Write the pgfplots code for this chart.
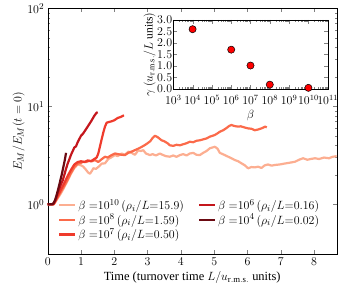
\documentclass[border=0pt]{standalone}
\usepackage{fontspec}
\setmainfont{Liberation Serif}
\usepackage{pgfplots}
\pgfplotsset{compat=1.18}
\definecolor{cA}{HTML}{FCAE91}
\definecolor{cB}{HTML}{FB6A4A}
\definecolor{cC}{HTML}{EF3B2C}
\definecolor{cD}{HTML}{C4161C}
\definecolor{cE}{HTML}{6B0A12}
\begin{document}
\begin{tikzpicture}[font=\fontsize{12.5}{14}\selectfont]
\begin{axis}[name=main, scale only axis, width=289bp, height=246bp,
  xmin=0, xmax=8.68, ymode=log, ymin=0.309, ymax=100,
  xtick={0,1,...,8}, ytick={1,10,100},
  tick align=inside, major tick length=4bp, minor tick length=2bp,
  xlabel={Time (turnover time $L/u_{\mathrm{r.m.s.}}$ units)},
  ylabel={$E_M/E_M(t=0)$},
  xlabel style={yshift=1bp}, ylabel style={yshift=-4bp},
  legend columns=2,
  legend cell align=left,
  legend style={at={(0.025,0.24)}, anchor=north west, draw=none, fill=none,
    /tikz/every even column/.append style={column sep=12bp}, row sep=-1bp,
    font=\fontsize{12.5}{14}\selectfont},
  legend image code/.code={\draw[#1] (0bp,0bp) -- (16bp,0bp);},
  every axis plot/.append style={line width=2.2bp, line join=round}]
\addplot[cA, forget plot] coordinates {
(0,1.0)(0.1,1.0)(0.18,1.0)(0.25,1.08)(0.3,1.15)(0.4,1.3)(0.5,1.5)(0.6,1.75)(0.7,2.05)(0.8,2.35)(0.9,2.55)(1.0,2.5)(1.07,2.42)(1.15,2.25)(1.22,2.1)(1.27,2.05)(1.33,2.2)(1.37,2.33)(1.45,2.3)(1.55,2.45)(1.62,2.6)(1.72,2.62)(1.82,2.9)(1.9,3.0)(2.02,3.18)(2.1,3.1)(2.22,3.3)(2.32,3.2)(2.42,3.45)(2.52,3.35)(2.62,3.2)(2.72,3.55)(2.8,3.5)(2.87,3.57)(2.95,3.3)(3.07,3.18)(3.15,3.25)(3.25,3.15)(3.37,3.3)(3.45,3.2)(3.55,3.1)(3.67,3.06)(3.77,3.15)(3.87,3.05)(3.97,3.18)(4.07,3.25)(4.17,3.15)(4.27,3.3)(4.37,3.35)(4.47,3.2)(4.57,3.18)(4.67,3.35)(4.77,3.5)(4.87,3.73)(4.95,3.8)(5.02,3.87)(5.1,3.7)(5.17,3.35)(5.3,3.2)(5.42,3.06)(5.52,2.95)(5.62,2.83)(5.72,2.75)(5.82,2.62)(5.92,2.5)(6.02,2.33)(6.12,2.4)(6.22,2.38)(6.32,2.42)(6.42,2.35)(6.52,2.5)(6.62,2.55)(6.72,2.48)(6.82,2.52)(6.97,2.55)(7.1,2.6)(7.25,2.65)(7.43,2.72)(7.55,2.85)(7.67,2.95)(7.8,2.85)(7.9,2.9)(8.03,2.95)(8.15,2.9)(8.3,3.0)(8.45,2.95)(8.55,3.05)(8.68,3.1)};
\addplot[cB, forget plot] coordinates {
(0,1.0)(0.18,1.0)(0.25,1.1)(0.3,1.18)(0.4,1.35)(0.5,1.55)(0.6,1.8)(0.7,2.1)(0.8,2.4)(0.9,2.6)(1.0,2.65)(1.07,2.72)(1.15,2.7)(1.25,2.78)(1.33,2.75)(1.42,2.83)(1.52,2.7)(1.6,2.85)(1.72,3.06)(1.8,3.0)(1.9,3.15)(2.02,3.3)(2.12,3.25)(2.22,3.2)(2.32,3.18)(2.42,3.35)(2.52,3.45)(2.62,3.57)(2.72,3.7)(2.82,3.85)(2.92,4.03)(3.0,4.2)(3.08,4.4)(3.15,4.75)(3.22,5.0)(3.3,4.85)(3.42,4.5)(3.5,4.4)(3.6,4.2)(3.67,4.0)(3.77,3.95)(3.87,4.05)(3.97,4.0)(4.07,4.1)(4.17,4.2)(4.27,4.35)(4.37,4.3)(4.47,4.45)(4.57,4.5)(4.67,4.6)(4.77,4.7)(4.87,4.9)(4.95,5.0)(5.02,5.1)(5.1,5.3)(5.17,5.5)(5.27,5.7)(5.37,6.0)(5.45,6.3)(5.52,6.45)(5.6,6.3)(5.72,6.2)(5.8,6.25)(5.9,6.1)(6.02,5.95)(6.12,5.9)(6.22,5.7)(6.32,5.8)(6.42,5.95)(6.53,6.2)(6.58,6.1)};
\addplot[cC, forget plot] coordinates {
(0,1.0)(0.18,1.0)(0.25,1.12)(0.3,1.22)(0.4,1.42)(0.5,1.65)(0.6,1.95)(0.7,2.25)(0.8,2.55)(0.9,2.7)(1.0,2.75)(1.1,2.7)(1.2,2.8)(1.3,2.75)(1.4,2.9)(1.47,3.0)(1.52,3.3)(1.57,3.9)(1.62,4.6)(1.67,5.4)(1.72,6.2)(1.77,6.8)(1.83,6.9)(1.9,7.0)(2.0,7.2)(2.1,7.6)(2.2,7.8)(2.29,8.1)};
\addplot[cD, forget plot] coordinates {
(0,1.0)(0.15,1.0)(0.2,1.05)(0.25,1.15)(0.3,1.3)(0.35,1.45)(0.4,1.6)(0.45,1.75)(0.5,2.0)(0.55,2.3)(0.6,2.6)(0.7,3.2)(0.8,3.8)(0.85,3.9)(0.9,4.3)(1.0,5.0)(1.05,5.2)(1.1,5.5)(1.2,6.2)(1.3,7.0)(1.4,8.0)(1.47,8.6)(1.5,8.7)};
\addplot[cE, forget plot] coordinates {
(0,1.0)(0.12,1.0)(0.17,1.02)(0.22,1.1)(0.27,1.25)(0.32,1.45)(0.37,1.7)(0.42,2.0)(0.47,2.4)(0.52,2.9)(0.55,3.35)};
\addlegendimage{cA, line width=2.2bp}
\addlegendentry{$\beta\;{=}10^{10}\,(\rho_i/L{=}15.9)$}
\addlegendimage{cD, line width=2.2bp}
\addlegendentry{$\beta\;{=}10^{6}\,(\rho_i/L{=}0.16)$}
\addlegendimage{cB, line width=2.2bp}
\addlegendentry{$\beta\;{=}10^{8}\,(\rho_i/L{=}1.59)$}
\addlegendimage{cE, line width=2.2bp}
\addlegendentry{$\beta\;{=}10^{4}\,(\rho_i/L{=}0.02)$}
\addlegendimage{cC, line width=2.2bp}
\addlegendentry{$\beta\;{=}10^{7}\,(\rho_i/L{=}0.50)$}
\end{axis}
\begin{axis}[at={(125.6bp,165.3bp)}, anchor=south west, scale only axis,
  width=154.4bp, height=69bp,
  xmode=log, xmin=1e3, xmax=1e11,
  xtick={1e3,1e4,1e5,1e6,1e7,1e8,1e9,1e10,1e11},
  ymin=0, ymax=3, ytick={0,0.5,...,3},
  yticklabel style={/pgf/number format/fixed, /pgf/number format/fixed zerofill, /pgf/number format/precision=1, inner xsep=1bp},
  tick align=inside, major tick length=4bp, minor tick length=2bp,
  axis background/.style={fill=white},
  xlabel={$\beta$}, ylabel={$\gamma\ (u_{\mathrm{r.m.s.}}/L\ \mathrm{units})$},
  xlabel style={yshift=1bp}, ylabel style={yshift=-3bp},
  font=\fontsize{11.5}{13}\selectfont,
  xticklabel style={inner xsep=0pt, yshift=-2.5bp}]
\addplot[only marks, mark=*, mark size=3.6bp, mark options={fill=red, draw=black, line width=0.5bp}] coordinates {
(1e4,2.6)(1e6,1.71)(1e7,1.02)(1e8,0.19)(1e10,0.05)};
\end{axis}
\pgfresetboundingbox
\path (-47.7bp,-35.7bp) rectangle (293.3bp,254.3bp);
\end{tikzpicture}
\end{document}
